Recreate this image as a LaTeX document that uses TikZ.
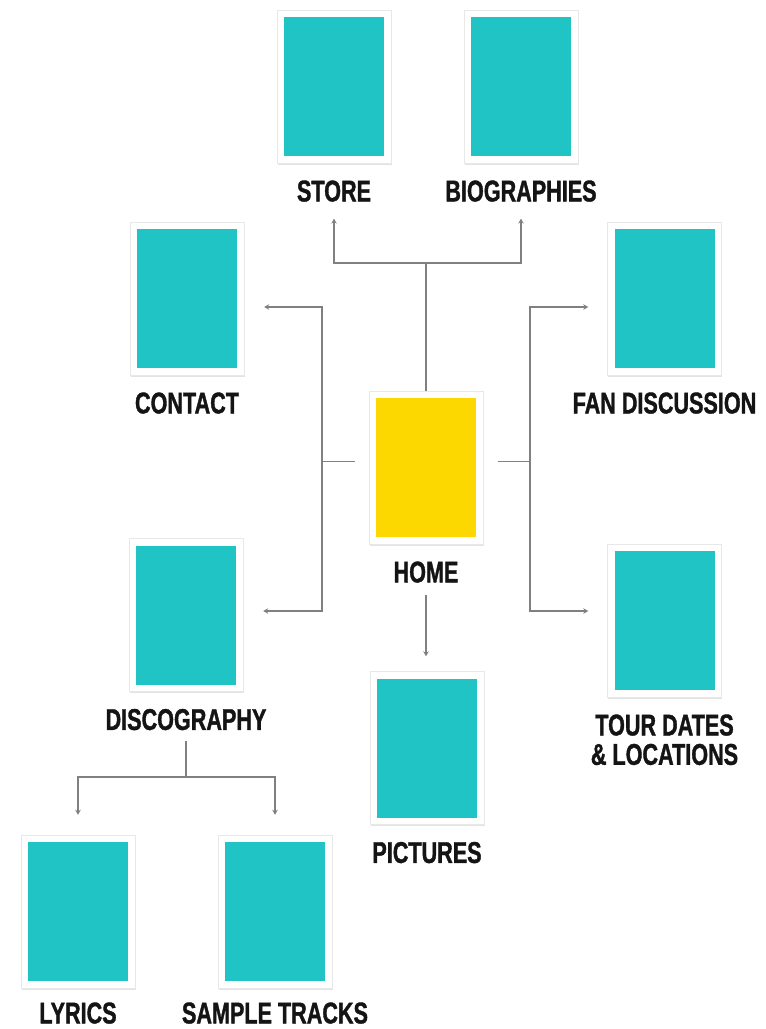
\documentclass[tikz,border=0pt]{standalone}
\usepackage{fontspec}
\usepackage{tikz}
\usetikzlibrary{arrows.meta, positioning, shadows}
\newfontfamily\capfont{Liberation Sans}[FakeStretch=0.72, BoldFeatures={FakeBold=1.2}]
\definecolor{pageteal}{HTML}{20C4C4}
\definecolor{pagegold}{HTML}{FCD700}
\definecolor{linkgray}{HTML}{808080}
\definecolor{capink}{HTML}{141414}

\begin{document}
\begin{tikzpicture}[x=1pt, y=-1pt,
    page/.style={draw=black!9, fill=white, minimum width=114pt, minimum height=153pt, inner sep=0pt,
      drop shadow={shadow xshift=0.8pt, shadow yshift=-1.6pt, opacity=0.22},
      path picture={\fill[#1] ([shift={(7pt,7pt)}]path picture bounding box.south west)
        rectangle ([shift={(-7pt,-7pt)}]path picture bounding box.north east);}},
    page/.default=pageteal,
    caption/.style={font={\fontsize{30pt}{30pt}\capfont\bfseries}, text=capink, inner sep=0pt,
      text height=22pt, text depth=0pt, below=16pt of #1},
    link/.style={linkgray, line width=1.5pt},
    arr/.style={link, -{Stealth[length=5pt, width=5.5pt]}}]
  \useasboundingbox (0,0) rectangle (766,1029);
  % pages
  \node[page] (store) at (334,86.5) {};
  \node[page] (bio) at (521,86.5) {};
  \node[page] (contact) at (187,298.5) {};
  \node[page] (fan) at (664.5,298.5) {};
  \node[page=pagegold] (home) at (426,467.5) {};
  \node[page] (disco) at (186,615) {};
  \node[page] (tour) at (664.5,620.5) {};
  \node[page] (pics) at (427,748) {};
  \node[page] (lyrics) at (78,911.5) {};
  \node[page] (sample) at (275,911.5) {};
  % captions
  \node[caption=store] (storeL) {STORE};
  \node[caption=bio] (bioL) {BIOGRAPHIES};
  \node[caption=contact] (contactL) {CONTACT};
  \node[caption=fan] (fanL) {FAN DISCUSSION};
  \node[caption=home] (homeL) {HOME};
  \node[caption=disco] (discoL) {DISCOGRAPHY};
  \node[caption=tour] (tourL) {TOUR DATES};
  \node[caption=tourL, below=7pt of tourL] (tourM) {\& LOCATIONS};
  \node[caption=pics] (picsL) {PICTURES};
  \node[caption=lyrics, below=13pt of lyrics] (lyricsL) {LYRICS};
  \node[caption=sample, below=13pt of sample] (sampleL) {SAMPLE TRACKS};
  % hubs
  \coordinate (hubT) at ([yshift=128pt]home.north);
  \coordinate (hubL) at ([xshift=-47pt, yshift=6pt]home.west);
  \coordinate (hubR) at ([xshift=47pt, yshift=6pt]home.east);
  \coordinate (hubD) at ([yshift=-47pt]discoL.south);
  % connectors
  \draw[link] (home.north) -- (hubT);
  \draw[arr] (hubT) -| ([yshift=-17pt]storeL.south);
  \draw[arr] (hubT) -| ([yshift=-17pt]bioL.south);
  \draw[link, shorten >=14pt] (hubL) -- (hubL -| home.west);
  \draw[link, shorten >=15pt] (hubR) -- (hubR -| home.east);
  \draw[arr] (hubL) |- ([xshift=20pt, yshift=-8.5pt]contact.east);
  \draw[arr] (hubL) |- ([xshift=20pt, yshift=4pt]disco.east);
  \draw[arr] (hubR) |- ([xshift=-19pt, yshift=-8.5pt]fan.west);
  \draw[arr] (hubR) |- ([xshift=-19pt, yshift=9.5pt]tour.west);
  \draw[arr, shorten <=12pt, shorten >=15pt] (homeL.south) -- (homeL.south |- pics.north);
  \draw[link, shorten <=11pt] (discoL.south) -- (hubD);
  \draw[arr] (hubD) -| ([yshift=20pt]lyrics.north);
  \draw[arr] (hubD) -| ([yshift=20pt]sample.north);
\end{tikzpicture}
\end{document}
